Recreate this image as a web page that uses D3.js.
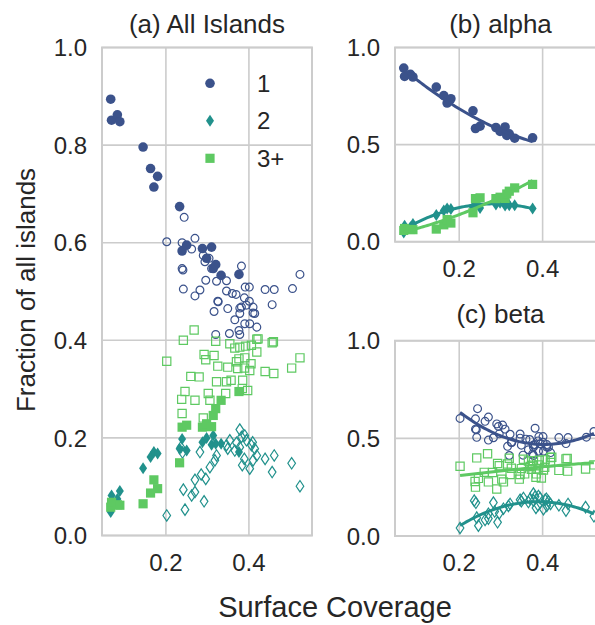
<!DOCTYPE html>
<html>
<head>
<meta charset="utf-8">
<script src="https://cdn.jsdelivr.net/npm/d3@7"></script>
<style>
  body { margin: 0; background: #fff; }
  text { font-family: Arial, "Liberation Sans", sans-serif; fill: #262626; }
</style>
</head>
<body>
<svg id="chart" width="595" height="625"></svg>
<script>
// alpha samples (filled markers)
const alphaX = [0.067, 0.069, 0.083, 0.089, 0.145, 0.163, 0.171, 0.180, 0.233, 0.239, 0.250, 0.288, 0.298, 0.310, 0.314, 0.320, 0.333, 0.376];
const alpha1 = [0.894, 0.851, 0.862, 0.848, 0.796, 0.752, 0.714, 0.736, 0.674, 0.583, 0.595, 0.588, 0.568, 0.591, 0.547, 0.555, 0.533, 0.535];
const alpha2 = [0.048, 0.082, 0.075, 0.091, 0.138, 0.161, 0.171, 0.168, 0.178, 0.198, 0.174, 0.191, 0.200, 0.186, 0.205, 0.188, 0.188, 0.171];
const alpha3 = [0.058, 0.068, 0.063, 0.062, 0.065, 0.087, 0.114, 0.096, 0.149, 0.222, 0.226, 0.222, 0.229, 0.223, 0.246, 0.260, 0.277, 0.295];

// beta samples (open markers)
const beta1X = [0.202, 0.239, 0.244, 0.270, 0.262, 0.290, 0.294, 0.304, 0.239, 0.241, 0.310, 0.382, 0.523, 0.296, 0.322, 0.346,
                0.242, 0.282, 0.270, 0.346, 0.360, 0.369, 0.391, 0.401, 0.439, 0.461, 0.505, 0.325, 0.389, 0.401, 0.349, 0.378,
                0.394, 0.410, 0.456, 0.316, 0.414, 0.378, 0.366, 0.390, 0.402, 0.419, 0.326, 0.382, 0.320, 0.353, 0.376, 0.378, 0.410];
const beta1 = [0.602, 0.600, 0.652, 0.609, 0.587, 0.574, 0.561, 0.568, 0.547, 0.544, 0.547, 0.552, 0.535, 0.523, 0.521, 0.522,
               0.505, 0.503, 0.491, 0.501, 0.496, 0.494, 0.509, 0.509, 0.504, 0.504, 0.506, 0.480, 0.487, 0.480, 0.465, 0.466,
               0.472, 0.468, 0.473, 0.459, 0.455, 0.455, 0.442, 0.434, 0.434, 0.427, 0.479, 0.468, 0.412, 0.414, 0.420, 0.412, 0.456];

const beta2X = [0.378, 0.390, 0.394, 0.354, 0.346, 0.366, 0.378, 0.406, 0.414, 0.419, 0.410, 0.389, 0.384, 0.402, 0.439, 0.461,
                0.456, 0.503, 0.523, 0.282, 0.322, 0.306, 0.296, 0.270, 0.242, 0.262, 0.270, 0.292, 0.246, 0.202, 0.382, 0.409,
                0.318, 0.349, 0.370, 0.236, 0.240, 0.285];
const beta2 = [0.217, 0.205, 0.195, 0.195, 0.185, 0.174, 0.181, 0.185, 0.178, 0.164, 0.154, 0.157, 0.144, 0.137, 0.157, 0.164,
               0.130, 0.148, 0.101, 0.171, 0.164, 0.140, 0.116, 0.114, 0.094, 0.082, 0.089, 0.070, 0.053, 0.041, 0.202, 0.191,
               0.154, 0.178, 0.190, 0.181, 0.170, 0.125];

const beta3X = [0.268, 0.242, 0.320, 0.354, 0.366, 0.378, 0.392, 0.406, 0.419, 0.419, 0.456, 0.202, 0.292, 0.296, 0.316, 0.376,
                0.390, 0.405, 0.523, 0.503, 0.325, 0.349, 0.373, 0.389, 0.402, 0.439, 0.460, 0.260, 0.280, 0.322, 0.346, 0.357,
                0.385, 0.397, 0.384, 0.246, 0.238, 0.270, 0.302, 0.306, 0.344, 0.239, 0.290, 0.370, 0.422, 0.459];
const beta3 = [0.421, 0.400, 0.398, 0.393, 0.384, 0.386, 0.388, 0.390, 0.402, 0.376, 0.395, 0.357, 0.371, 0.360, 0.369, 0.362,
               0.364, 0.352, 0.364, 0.343, 0.347, 0.345, 0.342, 0.343, 0.338, 0.336, 0.332, 0.326, 0.325, 0.315, 0.315, 0.318,
               0.318, 0.297, 0.301, 0.295, 0.279, 0.277, 0.291, 0.277, 0.291, 0.250, 0.241, 0.356, 0.403, 0.397];

const seriesLabels = ['1', '2', '3+'];
const seriesColors = ['#3b528b', '#21918c', '#5ec962'];
const seriesShapes = ['circle', 'diamond', 'square'];
const xTicks = [0.2, 0.4];
const yTicksA = [0, 0.2, 0.4, 0.6, 0.8, 1.0];
const yTicksBC = [0, 0.5, 1.0];


const svg = d3.select('#chart');
const xDomain = [0.046, 0.552];

const alphaSets = [alpha1, alpha2, alpha3].map(ys => alphaX.map((x, i) => ({x: x, y: ys[i]})));
const betaSets = [[beta1X, beta1], [beta2X, beta2], [beta3X, beta3]]
  .map(([xs, ys]) => xs.map((x, i) => ({x: x, y: ys[i]})));

// Quadratic least squares fit
function polyfit2(pts) {
  let s = [0, 0, 0, 0, 0], t = [0, 0, 0];
  pts.forEach(p => {
    for (let k = 0; k < 5; k++) s[k] += Math.pow(p.x, k);
    for (let k = 0; k < 3; k++) t[k] += p.y * Math.pow(p.x, k);
  });
  const m = [[s[0], s[1], s[2], t[0]], [s[1], s[2], s[3], t[1]], [s[2], s[3], s[4], t[2]]];
  for (let i = 0; i < 3; i++) {
    for (let j = i + 1; j < 3; j++) {
      const f = m[j][i] / m[i][i];
      for (let k = i; k < 4; k++) m[j][k] -= f * m[i][k];
    }
  }
  const c = [0, 0, 0];
  for (let i = 2; i >= 0; i--) {
    let v = m[i][3];
    for (let k = i + 1; k < 3; k++) v -= m[i][k] * c[k];
    c[i] = v / m[i][i];
  }
  return x => c[0] + c[1] * x + c[2] * x * x;
}

function markerPath(shape, filled) {
  if (shape === 'circle') {
    const r = filled ? 4.8 : 3.9;
    return `M${r},0A${r},${r},0,1,1,${-r},0A${r},${r},0,1,1,${r},0Z`;
  }
  if (shape === 'diamond') {
    const w = filled ? 4.0 : 3.8, h = filled ? 6.0 : 5.7;
    return `M0,${-h}L${w},0L0,${h}L${-w},0Z`;
  }
  const a = filled ? 4.6 : 4.1;
  return `M${-a},${-a}L${a},${-a}L${a},${a}L${-a},${a}Z`;
}

function makePanel(box, yTicks, title, titleY) {
  const x = d3.scaleLinear().domain(xDomain).range([box.left, box.right]);
  const y = d3.scaleLinear().domain([0, 1]).range([box.bottom, box.top]);
  const g = svg.append('g');

  // grid
  g.append('g').selectAll('line').data(xTicks).enter().append('line')
    .attr('x1', d => x(d)).attr('x2', d => x(d))
    .attr('y1', box.top).attr('y2', box.bottom)
    .attr('stroke', '#cccccc').attr('stroke-width', 1.6);
  g.append('g').selectAll('line').data(yTicks).enter().append('line')
    .attr('x1', box.left).attr('x2', box.right)
    .attr('y1', d => y(d)).attr('y2', d => y(d))
    .attr('stroke', '#cccccc').attr('stroke-width', 1.6);

  // frame
  g.append('rect')
    .attr('x', box.left).attr('y', box.top)
    .attr('width', box.right - box.left).attr('height', box.bottom - box.top)
    .attr('fill', 'none').attr('stroke', '#cccccc').attr('stroke-width', 2);

  // tick labels
  g.append('g').selectAll('text').data(xTicks).enter().append('text')
    .attr('x', d => x(d)).attr('y', box.bottom + 35)
    .attr('text-anchor', 'middle').style('font-size', '24px')
    .text(d3.format('.1f'));
  g.append('g').selectAll('text').data(yTicks).enter().append('text')
    .attr('x', box.left - 15).attr('y', d => y(d)).attr('dy', '0.36em')
    .attr('text-anchor', 'end').style('font-size', '24px')
    .text(d3.format('.1f'));

  g.append('text')
    .attr('x', (box.left + box.right) / 2).attr('y', titleY)
    .attr('text-anchor', 'middle').style('font-size', '26px')
    .text(title);

  return {x, y, g};
}

function drawPoints(p, pts, i, filled) {
  p.g.append('g').selectAll('path').data(pts).enter().append('path')
    .attr('transform', d => `translate(${p.x(d.x)},${p.y(d.y)})`)
    .attr('d', markerPath(seriesShapes[i], filled))
    .attr('fill', filled ? seriesColors[i] : 'none')
    .attr('stroke', filled ? 'none' : seriesColors[i])
    .attr('stroke-width', 1.2);
}

function drawFit(p, pts, i) {
  const f = polyfit2(pts);
  const [lo, hi] = d3.extent(pts, d => d.x);
  const xs = d3.range(0, 61).map(k => lo + (hi - lo) * k / 60);
  p.g.append('path')
    .datum(xs)
    .attr('d', d3.line().x(d => p.x(d)).y(d => p.y(f(d))))
    .attr('fill', 'none')
    .attr('stroke', seriesColors[i])
    .attr('stroke-width', 3);
}

// (a) all islands
const pa = makePanel({left: 102, right: 312, top: 47.5, bottom: 535.5}, yTicksA, '(a) All Islands', 33);
betaSets.forEach((pts, i) => drawPoints(pa, pts, i, false));
alphaSets.forEach((pts, i) => drawPoints(pa, pts, i, true));

// (b) alpha
const pb = makePanel({left: 395, right: 606, top: 47.5, bottom: 241.7}, yTicksBC, '(b) alpha', 33);
alphaSets.forEach((pts, i) => { drawPoints(pb, pts, i, true); drawFit(pb, pts, i); });

// (c) beta
const pc = makePanel({left: 395, right: 606, top: 340.7, bottom: 536}, yTicksBC, '(c) beta', 323);
betaSets.forEach((pts, i) => { drawPoints(pc, pts, i, false); drawFit(pc, pts, i); });

// legend
const legend = svg.append('g');
seriesLabels.forEach((lab, i) => {
  const ly = 83.3 + i * 37.5;
  legend.append('path')
    .attr('transform', `translate(210,${ly})`)
    .attr('d', markerPath(seriesShapes[i], true))
    .attr('fill', seriesColors[i]);
  legend.append('text')
    .attr('x', 257).attr('y', ly).attr('dy', '0.36em')
    .style('font-size', '24px')
    .text(lab);
});

// axis labels
svg.append('text')
  .attr('transform', 'translate(35,290) rotate(-90)')
  .attr('text-anchor', 'middle').style('font-size', '26px')
  .text('Fraction of all islands');

svg.append('text')
  .attr('x', 335).attr('y', 617)
  .attr('text-anchor', 'middle').style('font-size', '29px')
  .text('Surface Coverage');
</script>
</body>
</html>
